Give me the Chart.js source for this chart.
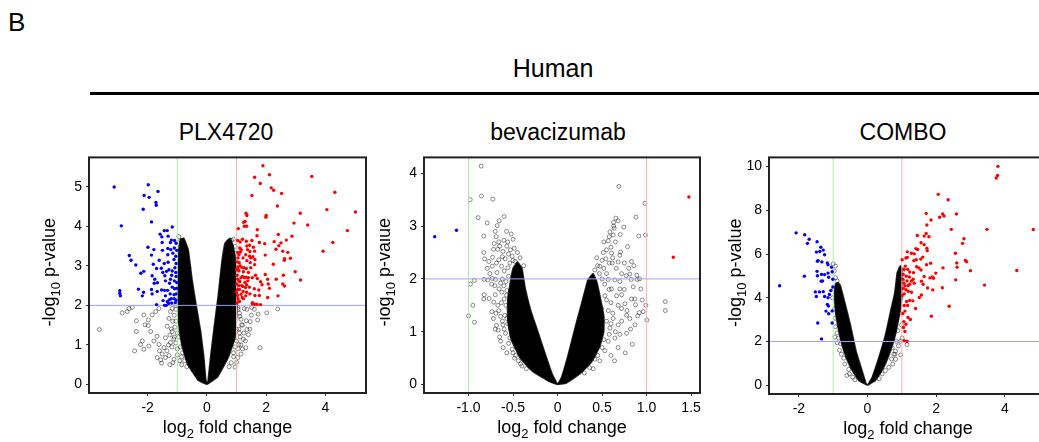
<!DOCTYPE html>
<html>
<head>
<meta charset="utf-8">
<script src="https://cdn.jsdelivr.net/npm/chart.js@4.4.1/dist/chart.umd.min.js"></script>
<style>
    body { margin: 0; width: 1039px; height: 442px; overflow: hidden; background: #fff; position: relative; font-family: "Liberation Sans", Arial, sans-serif; }
    .txt { position: absolute; color: #000; white-space: nowrap; line-height: 1; }
    #panelB { left: 8px; top: 9px; font-size: 26px; }
    #human { left: 553px; top: 56px; font-size: 25px; transform: translateX(-50%); }
    #rule { position: absolute; left: 90px; top: 92px; width: 960px; height: 3px; background: #000; }
    .ptitle { top: 121px; font-size: 23px; transform: translateX(-50%); }
    canvas { position: absolute; }
</style>
</head>
<body>
<div class="txt" id="panelB">B</div>
<div class="txt" id="human">Human</div>
<div id="rule"></div>
<div class="txt ptitle" style="left:226px">PLX4720</div>
<div class="txt ptitle" style="left:558px">bevacizumab</div>
<div class="txt ptitle" style="left:903px">COMBO</div>
<canvas id="plxChart" width="372" height="297" style="left:0px; top:145px"></canvas>
<canvas id="bevChart" width="326" height="297" style="left:380px; top:145px"></canvas>
<canvas id="comboChart" width="333" height="297" style="left:720px; top:145px"></canvas>
<script>
// Cut-offs (log2 FC = ±1, -log10 p = 2)
const fcCut = 1;
const pCut = 2;

// Axis ticks
const plxXTicks = [-2, 0, 2, 4];
const plxYTicks = [0, 1, 2, 3, 4, 5];
const bevXTicks = [-1, -0.5, 0, 0.5, 1, 1.5];
const bevXLabels = ["-1.0", "-0.5", "0", "0.5", "1.0", "1.5"];
const bevYTicks = [0, 1, 2, 3, 4];
const comboXTicks = [-2, 0, 2, 4];
const comboYTicks = [0, 2, 4, 6, 8, 10];

// PLX4720 - dense V (outline of the solid black mass)
const plxLeftArm = [[0,0],[-0.3,0.11],[-0.66,0.52],[-0.85,1.01],[-0.95,1.51],[-0.99,2.0],[-0.99,2.5],[-0.97,2.99],[-0.95,3.41],[-0.89,3.67],[-0.78,3.70],[-0.63,3.41],[-0.50,2.66],[-0.36,2.0],[-0.21,1.34],[-0.1,0.68],[-0.04,0.15],[0,0]];
const plxRightArm = [[0,0],[0.36,0.19],[0.72,0.68],[0.95,1.18],[1.0,1.67],[1.02,2.17],[1.0,2.66],[0.98,3.08],[0.89,3.49],[0.78,3.70],[0.61,3.57],[0.50,3.08],[0.38,2.25],[0.24,1.43],[0.12,0.68],[0.04,0.11],[0,0]];
// PLX4720 - non significant genes outside the dense mass
const plxGray = [[-2.86,1.81],[-2.69,1.84],[-2.63,1.92],[-2.52,1.95],[-3.63,1.39],[-2.38,1.61],[-2.38,1.34],[-2.44,0.85],[-2.13,1.76],[-2.09,1.51],[-1.98,1.63],[-1.98,1.49],[-1.85,1.76],[-1.73,1.84],[-1.62,1.92],[-1.90,1.34],[-2.18,1.10],[-2.24,1.01],[-2.13,0.89],[-1.96,0.97],[-1.79,1.10],[-1.68,1.22],[-1.62,1.01],[-1.60,0.85],[-1.51,0.77],[-1.53,0.54],[-1.45,0.93],[-1.40,1.18],[-1.34,1.47],[-1.28,1.67],[-1.23,1.84],[-1.17,1.92],[-1.17,1.34],[-1.23,1.06],[-1.28,0.73],[-1.11,0.64],[-1.40,0.68],[-1.68,0.68],[-1.56,0.62],
    [-0.95,3.74],[-0.88,3.64],[-0.79,3.53],[-0.83,3.37],[-0.74,3.24],[-0.66,3.08],[-0.61,2.95],[-1.05,1.6],[-1.1,1.2],[-1.0,0.9],[-0.85,0.7],
    [-1.05,1.9],[-1.1,1.75],[-1.15,1.6],[-1.08,1.45],[-1.2,1.4],[-1.25,1.25],[-1.12,1.15],[-1.3,1.0],[-1.18,0.95],[-1.05,1.05],[-1.35,0.85],[-1.0,1.3],[-0.95,1.2],[-0.9,0.95],[-0.82,0.8],[-0.75,0.6],[-0.68,0.45],[-1.0,0.75],[-0.92,0.6],[-1.15,0.55],[-1.25,0.5],[-0.85,0.5],[-1.05,2.0],[-0.88,2.6],[-0.9,2.9],[-0.92,3.1],
    [2.39,1.91],[2.02,1.81],[1.73,1.78],[1.71,1.63],[1.46,1.59],[1.33,1.61],[1.35,1.39],[1.40,1.26],[1.23,1.14],[1.31,0.93],[1.79,0.93],[1.15,0.77],[1.08,1.01],[1.17,1.51],[1.11,1.72],[1.26,1.92],[1.51,1.95],[1.04,0.68],[1.00,0.56],[0.95,0.44],
    [0.83,3.64],[0.89,3.67],[0.75,3.37],[0.72,3.16],[0.61,3.0],[0.50,2.66],[0.95,3.49],[0.97,3.32],[1.05,1.9],[1.1,1.3],[0.9,0.8],
    [1.05,1.95],[1.1,1.8],[1.15,1.65],[1.2,1.5],[1.08,1.4],[1.25,1.3],[1.12,1.2],[1.0,1.1],[1.05,0.9],[0.95,0.95],[0.9,0.7],[0.82,0.55],[0.75,0.45],[1.2,0.9],[1.3,1.1],[1.15,1.0],[1.0,1.4],[0.98,2.0],[0.95,2.4],[0.92,2.8],[0.85,3.1],[0.8,3.4],[0.7,3.5],[1.45,1.4],[1.5,1.75],[1.6,1.9],[1.35,1.9]];
const plxDown = [[-3.13,4.99],[-1.98,5.05],[-1.65,4.88],[-2.12,4.78],[-1.95,4.73],[-1.72,4.60],[-1.71,4.53],[-2.15,4.43],[-2.89,4.01],[-1.87,4.11],[-1.17,3.98],[-1.44,3.89],[-1.34,3.89],[-1.58,3.80],[-1.52,3.73],[-1.31,3.75],[-1.20,3.65],[-1.09,3.64],[-1.04,3.57],[-1.51,3.59],[-1.23,3.59],[-1.99,3.47],[-1.32,3.44],[-1.22,3.41],[-1.10,3.45],[-1.02,3.39],[-1.79,3.41],[-1.50,3.39],[-1.15,3.32],[-2.62,3.26],[-1.87,3.27],[-1.32,3.28],[-1.05,3.24],[-2.56,3.14],[-1.61,3.14],[-1.44,3.06],[-1.31,3.09],[-1.11,3.16],[-1.04,3.06],[-2.40,3.02],[-1.81,3.04],[-1.08,2.95],[-1.70,2.93],[-1.54,2.94],[-1.36,2.86],[-1.28,2.90],[-1.17,2.87],[-1.05,2.83],[-2.13,2.86],[-2.23,2.81],[-1.49,2.83],[-1.42,2.75],[-1.19,2.76],[-1.04,2.73],[-1.85,2.75],[-1.76,2.66],[-1.67,2.57],[-1.78,2.56],[-1.23,2.66],[-1.10,2.62],[-1.02,2.58],[-1.40,2.62],[-1.26,2.56],[-2.31,2.41],[-2.14,2.33],[-1.87,2.40],[-1.68,2.35],[-1.53,2.39],[-1.43,2.38],[-1.33,2.38],[-1.17,2.46],[-1.09,2.42],[-1.02,2.43],[-2.94,2.37],[-2.94,2.30],[-2.92,2.24],[-2.18,2.24],[-1.85,2.29],[-1.24,2.29],[-1.11,2.27],[-1.04,2.29],[-1.40,2.24],[-1.20,2.17],[-1.10,2.17],[-1.04,2.13],[-1.48,2.12],[-1.34,2.09],[-1.27,2.14],[-1.70,2.02],[-1.43,2.00],[-1.37,2.00],[-1.29,2.05],[-1.19,2.06],[-1.07,2.07]];
const plxUp = [[1.89,5.53],[1.61,5.24],[2.11,5.30],[3.54,5.26],[1.80,5.08],[2.17,4.97],[2.25,4.91],[2.52,4.83],[1.52,4.78],[4.32,4.86],[2.38,4.51],[1.32,4.33],[1.35,4.27],[2.00,4.27],[1.99,4.23],[3.15,4.33],[4.05,4.42],[5.01,4.36],[1.24,4.10],[1.29,4.12],[2.94,4.08],[3.40,4.03],[1.26,4.0],[1.34,4.0],[1.06,3.94],[1.70,3.91],[4.74,3.89],[2.41,3.79],[1.69,3.76],[2.87,3.75],[1.20,3.67],[1.04,3.64],[1.33,3.62],[1.52,3.64],[2.68,3.65],[4.25,3.59],[2.27,3.61],[2.50,3.58],[1.44,3.52],[1.77,3.59],[1.95,3.56],[2.43,3.51],[1.11,3.45],[1.16,3.41],[1.57,3.47],[1.37,3.41],[1.45,3.36],[1.61,3.37],[1.04,3.34],[2.33,3.42],[2.56,3.37],[2.73,3.34],[3.92,3.37],[1.97,3.27],[1.08,3.28],[1.31,3.28],[1.44,3.24],[1.55,3.23],[2.62,3.18],[2.61,3.14],[2.82,3.19],[1.62,3.16],[1.09,3.08],[1.35,3.13],[1.46,3.08],[2.24,3.04],[1.04,2.97],[1.18,2.96],[1.33,2.93],[1.48,2.95],[1.61,3.03],[2.98,2.85],[1.08,2.87],[1.23,2.85],[1.40,2.83],[1.64,2.76],[1.97,2.78],[2.58,2.76],[1.02,2.76],[1.20,2.73],[1.32,2.71],[1.53,2.70],[1.70,2.68],[2.34,2.66],[3.16,2.64],[1.04,2.66],[1.11,2.60],[1.28,2.58],[1.38,2.62],[1.81,2.60],[2.05,2.66],[1.86,2.52],[2.07,2.54],[2.56,2.54],[2.62,2.49],[1.08,2.50],[1.20,2.48],[1.34,2.52],[1.43,2.46],[1.60,2.42],[2.11,2.43],[1.75,2.39],[1.04,2.40],[1.22,2.35],[1.34,2.33],[1.15,2.28],[1.31,2.24],[1.45,2.29],[1.62,2.25],[1.77,2.25],[2.05,2.20],[2.40,2.24],[1.05,2.17],[1.23,2.17],[1.10,2.10],[1.54,2.07],[1.53,2.04],[1.61,2.03],[1.69,2.03],[1.81,2.02],[1.00,2.33],[1.01,2.54],
    [1.02,3.1],[1.06,2.9],[1.12,3.0],[1.15,2.7],[1.25,2.95],[1.1,2.4],[1.03,2.25],[1.18,2.5],[1.27,2.7],[1.05,3.2],[1.13,3.35],[1.22,3.2],[1.0,2.9],[1.3,2.45],[1.09,2.62],[1.4,2.7],[1.48,3.2],[1.19,2.2],[1.35,3.5],[1.02,2.06],[1.12,3.6]];

// bevacizumab
const bevLeftArm = [[0,0],[-0.1,0.06],[-0.28,0.25],[-0.42,0.5],[-0.52,0.85],[-0.56,1.2],[-0.56,1.6],[-0.53,1.95],[-0.5,2.2],[-0.45,2.32],[-0.4,2.2],[-0.36,1.8],[-0.3,1.4],[-0.22,1.0],[-0.15,0.64],[-0.06,0.2],[0,0]];
const bevRightArm = [[0,0],[0.1,0.03],[0.25,0.2],[0.38,0.42],[0.47,0.7],[0.52,1.0],[0.52,1.3],[0.48,1.65],[0.44,1.95],[0.4,2.1],[0.34,1.98],[0.28,1.6],[0.2,1.1],[0.12,0.57],[0.045,0.14],[0,0]];
const bevGray = [[-0.858,4.135],[-0.981,3.50],[-0.854,3.57],[-0.727,3.51],[-0.892,3.16],[-0.600,3.18],[-0.790,3.06],[-0.656,3.10],[-0.678,3.01],[-0.573,2.90],[-0.521,2.85],[-0.828,2.81],[-0.689,2.80],[-0.603,2.73],[-0.712,2.67],[-0.671,2.56],[-0.719,2.56],[-0.614,2.52],[-0.828,2.50],[-0.820,2.38],[-0.772,2.33],[-0.730,2.41],[-0.686,2.30],[-0.629,2.24],[-0.734,2.24],[-0.588,2.38],[-0.551,2.47],[-0.487,2.58],[-0.476,2.33],[-0.824,1.99],[-0.783,1.98],[-0.734,2.01],[-0.697,1.99],[-0.936,1.97],[-0.978,1.90],[-0.704,1.87],[-0.656,1.81],[-0.824,1.70],[-0.828,1.62],[-0.768,1.63],[-0.716,1.56],[-0.671,1.50],[-0.738,1.38],[-0.693,1.35],[-0.640,1.29],[-0.951,1.50],[-1.000,1.30],[-0.933,1.18],[-0.686,1.12],[-0.667,1.03],[-0.640,0.82],[-0.614,1.13],[-0.592,1.31],[-0.547,1.44],[-0.584,0.97],[-0.536,0.88],[-0.510,0.67],[-0.483,0.50],[-0.416,0.39],[-0.573,1.69],[-0.626,1.75],[-0.603,1.87],[-0.558,2.21],[-0.536,2.30],[-0.510,2.43],[-0.453,2.18],[-0.431,2.10],
    [-0.62,2.0],[-0.58,1.95],[-0.55,2.05],[-0.6,2.15],[-0.64,1.92],[-0.5,2.35],[-0.53,2.55],[-0.57,2.62],[-0.62,2.42],[-0.66,2.36],[-0.68,2.12],[-0.57,1.78],[-0.6,1.62],[-0.63,1.55],[-0.58,1.5],[-0.66,1.4],[-0.62,1.2],[-0.6,1.05],[-0.56,1.15],[-0.57,1.25],[-0.53,1.05],[-0.55,0.78],[-0.52,0.95],[-0.5,0.6],[-0.47,0.55],[-0.44,0.45],[-0.4,0.35],[-0.35,0.3],[-0.7,1.7],[-0.74,1.9],[-0.76,2.1],[-0.79,2.2],[-0.66,2.7],[-0.7,2.9],[-0.65,2.62],[-0.56,2.7],[-0.5,2.75],[-0.45,2.5],[-0.42,2.4],[-0.38,2.25],[-0.72,1.25],[-0.7,1.05],[-0.65,0.9],[-0.61,0.7],[-0.57,0.6],
    [0.689,3.75],[0.981,3.43],[0.88,3.17],[0.655,3.15],[0.629,3.07],[0.745,2.98],[0.636,2.96],[0.988,2.83],[0.913,2.81],[0.704,2.84],[0.588,2.89],[0.625,2.83],[0.786,2.61],[0.569,2.72],[0.708,2.51],[0.606,2.49],[0.513,2.50],[0.681,2.32],[0.831,2.33],[0.857,2.25],[0.614,2.30],[0.543,2.38],[0.475,2.24],[0.419,2.17],[0.719,2.10],[0.812,2.09],[0.771,2.06],[0.891,2.07],[0.827,1.99],[0.895,1.99],[0.644,1.98],[0.569,1.99],[0.936,1.81],[1.21,1.57],[1.21,1.40],[1.003,1.22],[0.992,1.50],[0.962,1.38],[0.917,1.36],[0.876,1.51],[0.831,1.62],[0.869,1.62],[0.756,1.53],[0.719,1.44],[0.775,1.31],[0.812,1.25],[0.869,1.13],[0.839,0.76],[0.775,0.97],[0.681,1.13],[0.625,1.25],[0.644,0.88],[0.569,0.82],[0.531,0.64],[0.588,1.07],[0.663,1.68],[0.606,1.81],[0.70,1.81],[0.531,1.68],[0.494,1.44],[0.475,0.45],[0.40,0.30],
    [0.5,2.0],[0.55,2.1],[0.47,2.1],[0.52,2.2],[0.58,2.3],[0.62,2.4],[0.6,2.6],[0.65,2.7],[0.55,2.55],[0.5,2.35],[0.45,2.25],[0.53,1.9],[0.58,1.8],[0.55,1.6],[0.6,1.55],[0.57,1.4],[0.62,1.35],[0.55,1.2],[0.6,1.15],[0.65,1.0],[0.58,0.95],[0.52,0.85],[0.5,0.7],[0.45,0.55],[0.42,0.48],[0.36,0.32],[0.3,0.22],[0.68,1.5],[0.72,1.7],[0.75,1.8],[0.7,1.95],[0.66,2.2],[0.7,2.45],[0.75,2.3],[0.8,2.2],[0.78,1.4],[0.72,1.2],[0.7,0.95],[0.68,0.7],[0.6,0.55],[0.85,1.85],[0.92,2.0],[0.95,1.6],[0.9,1.3],[0.82,1.05],[0.76,0.6],[0.64,0.45],[0.44,2.4],[0.52,2.7],[0.58,2.8],[0.63,3.0],[0.68,3.1]];
const bevDown = [[-1.38,2.80],[-1.135,2.92]];
const bevUp = [[1.475,3.55],[1.30,2.41]];

// COMBO
const comboLeftArm = [[0,0],[-0.254,0.22],[-0.497,0.82],[-0.69,1.56],[-0.837,2.46],[-0.934,3.36],[-0.964,4.25],[-0.934,4.62],[-0.857,4.70],[-0.789,4.55],[-0.662,3.80],[-0.497,2.76],[-0.332,1.56],[-0.157,0.67],[-0.04,0.07],[0,0]];
const comboRightArm = [[0,0],[0.232,0.22],[0.475,0.82],[0.669,1.56],[0.815,2.31],[0.912,3.06],[0.99,3.80],[1.0,4.55],[1.0,5.30],[0.96,5.45],[0.864,5.15],[0.796,4.25],[0.669,3.36],[0.523,2.31],[0.33,1.27],[0.136,0.37],[0,0]];
const comboGray = [[-0.934,5.45],[-1.0,5.55],[-0.97,5.22],[-0.934,4.92],[-0.885,4.77],[-0.905,3.95],[-0.96,3.50],[-0.934,3.06],[-0.934,2.68],[-0.885,2.39],[-0.837,2.16],[-0.885,1.94],[-0.818,1.60],[-0.76,1.42],[-0.69,1.24],[-0.662,0.97],[-0.546,0.73],[-0.526,0.52],[-0.43,0.37],[-0.37,0.25],[-0.6,0.45],[-0.98,4.4],[-1.02,4.0],[-0.95,2.2],[-0.78,1.9],
    [0.718,1.71],[0.766,1.42],[0.815,1.19],[0.737,0.97],[0.62,0.82],[0.52,0.67],[0.426,0.52],[0.815,1.56],[0.96,2.01],[1.01,2.16],[0.99,2.76],[0.96,5.37],[1.04,5.27],[0.84,2.01],[0.80,1.42],[0.97,1.39],[1.15,1.86],[0.9,1.8],[0.88,2.5],[0.95,3.3],[0.98,4.0],[1.02,4.8],[0.7,1.2],[0.34,0.3]];
const comboDown = [[-2.08,6.97],[-1.83,6.88],[-1.70,6.68],[-1.75,6.49],[-1.47,6.56],[-1.36,6.31],[-1.29,6.18],[-1.49,6.09],[-1.39,6.12],[-1.25,5.97],[-1.46,5.67],[-1.44,5.70],[-1.33,5.64],[-1.17,5.59],[-1.15,5.51],[-1.05,5.40],[-1.47,5.21],[-1.84,4.99],[-1.46,5.01],[-1.34,5.07],[-1.25,5.06],[-1.15,5.13],[-1.03,5.19],[-1.13,4.94],[-1.01,4.85],[-1.35,4.76],[-1.31,4.77],[-2.56,4.55],[-1.01,4.49],[-1.07,4.33],[-1.52,4.27],[-1.40,4.27],[-1.29,4.28],[-1.49,4.06],[-1.25,4.06],[-1.15,4.00],[-1.11,4.15],[-1.17,3.70],[-1.14,3.62],[-1.21,3.39],[-1.13,3.27],[-1.03,3.40],[-1.45,2.85],[-1.03,2.85],[-1.34,2.12]];
const comboUp = [[3.80,10.01],[3.79,9.59],[3.75,9.48],[2.06,8.73],[2.35,8.48],[1.71,7.86],[2.19,7.83],[2.23,7.74],[2.10,7.68],[2.59,7.83],[1.85,7.56],[1.73,7.33],[2.44,7.13],[3.48,7.13],[4.83,7.12],[1.45,6.85],[1.71,6.94],[1.65,6.82],[1.79,6.79],[2.81,6.70],[2.77,6.49],[1.56,6.52],[1.65,6.43],[1.73,6.27],[1.74,6.15],[1.41,6.25],[1.46,6.21],[1.16,6.10],[1.28,6.04],[1.36,6.01],[2.56,6.04],[1.12,5.82],[1.16,5.85],[1.35,5.70],[1.42,5.74],[1.55,5.77],[1.61,5.86],[2.85,5.71],[2.89,5.65],[2.60,5.59],[1.84,5.58],[1.72,5.51],[1.10,5.45],[1.43,5.42],[1.50,5.36],[1.56,5.27],[2.61,5.40],[2.20,5.37],[3.00,5.24],[4.35,5.25],[1.06,5.30],[1.17,5.30],[1.23,5.18],[1.34,5.15],[1.99,5.13],[1.04,5.07],[1.13,4.99],[1.22,4.95],[1.65,4.97],[1.82,4.91],[1.92,4.89],[1.89,4.95],[2.57,4.82],[1.03,4.85],[1.15,4.77],[1.28,4.77],[1.36,4.67],[1.57,4.76],[1.62,4.62],[1.06,4.67],[1.18,4.55],[1.75,4.45],[1.90,4.36],[2.18,4.46],[3.41,4.58],[1.04,4.43],[1.12,4.37],[1.19,4.30],[1.07,4.18],[1.57,4.13],[1.51,4.01],[1.32,3.86],[1.23,3.88],[1.14,3.83],[1.17,3.65],[1.07,3.65],[2.38,3.61],[1.40,3.51],[1.09,3.39],[1.03,3.28],[1.18,3.10],[1.86,3.16],[1.25,3.01],[1.06,2.91],[1.12,2.79],[1.05,2.64],[1.07,2.04],[1.15,2.01],[1.09,2.46],[1.01,5.74],[1.09,4.55],[1.23,4.62],[1.28,4.25],[1.01,4.10],[1.33,4.85]];

const FONT = '"Liberation Sans", Arial, sans-serif';
const xTitleParts = ["log", "2", " fold change"];
const yTitleParts = ["-log", "10", " p-value"];

const toXY = (arr) => arr.map((p) => ({ x: p[0], y: p[1] }));

// draws "main + subscript + rest" centred on (0,0)
function drawSubText(ctx, parts) {
    const big = "18px " + FONT;
    const small = "13px " + FONT;
    ctx.font = big;
    const w0 = ctx.measureText(parts[0]).width;
    const w2 = ctx.measureText(parts[2]).width;
    ctx.font = small;
    const w1 = ctx.measureText(parts[1]).width;
    let x = -(w0 + w1 + w2) / 2;
    ctx.fillStyle = "#000";
    ctx.textBaseline = "alphabetic";
    ctx.textAlign = "left";
    ctx.font = big;
    ctx.fillText(parts[0], x, 0);
    x += w0;
    ctx.font = small;
    ctx.fillText(parts[1], x, 5);
    x += w1;
    ctx.font = big;
    ctx.fillText(parts[2], x, 0);
}

function makePanel(id, cfg) {
    const ctx = document.getElementById(id).getContext("2d");

    const boxAndTitles = {
        id: "boxAndTitles",
        afterDraw(chart) {
            const c = chart.ctx;
            const a = chart.chartArea;
            c.save();
            c.strokeStyle = "#222";
            c.lineWidth = 2;
            c.strokeRect(a.left, a.top, a.right - a.left, a.bottom - a.top);
            // x title
            c.save();
            c.translate((a.left + a.right) / 2, a.bottom + 40);
            drawSubText(c, xTitleParts);
            c.restore();
            // y title
            c.save();
            c.translate(a.left - cfg.yTitleGap, (a.top + a.bottom) / 2 - 3);
            c.rotate(-Math.PI / 2);
            drawSubText(c, yTitleParts);
            c.restore();
            c.restore();
        },
    };

    const refLine = (data, color) => ({
        type: "line",
        data: data,
        showLine: true,
        borderColor: color,
        borderWidth: 1,
        pointRadius: 0,
        fill: false,
        order: 2,
    });

    // solid black mass of overlapping circles
    const arm = (pts) => ({
        type: "line",
        data: toXY(pts),
        showLine: true,
        fill: "shape",
        backgroundColor: "#000",
        borderColor: "rgba(0,0,0,0.8)",
        borderWidth: 1.5,
        tension: 0.1,
        pointRadius: 0,
        order: 5,
    });

    return new Chart(ctx, {
        type: "scatter",
        data: {
            datasets: [
                arm(cfg.leftArm),
                arm(cfg.rightArm),
                {
                    data: toXY(cfg.gray),
                    pointRadius: 2,
                    borderWidth: 0.6,
                    borderColor: "rgba(0,0,0,0.75)",
                    backgroundColor: "rgba(0,0,0,0)",
                    order: 4,
                },
                refLine([{ x: -fcCut, y: cfg.yMin }, { x: -fcCut, y: cfg.yMax }], "#a8eca8"),
                refLine([{ x: fcCut, y: cfg.yMin }, { x: fcCut, y: cfg.yMax }], "#ffb0b0"),
                refLine([{ x: cfg.xMin, y: pCut }, { x: cfg.xMax, y: pCut }], "#a0a0ff"),
                {
                    data: toXY(cfg.down),
                    pointRadius: 1.7,
                    borderWidth: 0,
                    backgroundColor: "#0000ff",
                    order: 1,
                },
                {
                    data: toXY(cfg.up),
                    pointRadius: 1.7,
                    borderWidth: 0,
                    backgroundColor: "#ff0000",
                    order: 1,
                },
            ],
        },
        options: {
            responsive: false,
            animation: false,
            events: [],
            layout: { padding: { top: 7, right: 6, left: 0, bottom: 0 } },
            plugins: { legend: { display: false }, tooltip: { enabled: false } },
            scales: {
                x: {
                    type: "linear",
                    min: cfg.xMin,
                    max: cfg.xMax,
                    afterBuildTicks: (s) => { s.ticks = cfg.xTicks.map((v) => ({ value: v })); },
                    afterFit: (s) => { s.height = cfg.xAxisH; },
                    ticks: {
                        autoSkip: false,
                        maxRotation: 0,
                        padding: 4,
                        color: "#000",
                        font: { family: FONT, size: 14 },
                        callback: (v) => cfg.xLabels ? cfg.xLabels[cfg.xTicks.indexOf(v)] : String(v),
                    },
                    grid: { drawOnChartArea: false, tickLength: 3, color: "#333" },
                    border: { display: false },
                },
                y: {
                    type: "linear",
                    min: cfg.yMin,
                    max: cfg.yMax,
                    afterBuildTicks: (s) => { s.ticks = cfg.yTicks.map((v) => ({ value: v })); },
                    afterFit: (s) => { s.width = cfg.yAxisW; },
                    ticks: {
                        autoSkip: false,
                        padding: 4,
                        color: "#000",
                        font: { family: FONT, size: 14 },
                        callback: (v) => String(v),
                    },
                    grid: { drawOnChartArea: false, tickLength: 3, color: "#333" },
                    border: { display: false },
                },
            },
        },
        plugins: [boxAndTitles],
    });
}

makePanel("plxChart", {
    leftArm: plxLeftArm, rightArm: plxRightArm, gray: plxGray, down: plxDown, up: plxUp,
    xMin: -3.98, xMax: 5.37, yMin: -0.215, yMax: 5.74,
    xTicks: plxXTicks, yTicks: plxYTicks,
    yAxisW: 89, xAxisH: 49, yTitleGap: 34,
});

makePanel("bevChart", {
    leftArm: bevLeftArm, rightArm: bevRightArm, gray: bevGray, down: bevDown, up: bevUp,
    xMin: -1.50, xMax: 1.60, yMin: -0.16, yMax: 4.30,
    xTicks: bevXTicks, xLabels: bevXLabels, yTicks: bevYTicks,
    yAxisW: 44, xAxisH: 49, yTitleGap: 34,
});

makePanel("comboChart", {
    leftArm: comboLeftArm, rightArm: comboRightArm, gray: comboGray, down: comboDown, up: comboUp,
    xMin: -2.87, xMax: 5.23, yMin: -0.4, yMax: 10.42,
    xTicks: comboXTicks, yTicks: comboYTicks,
    yAxisW: 49, xAxisH: 48, yTitleGap: 28,
});
</script>
</body>
</html>
